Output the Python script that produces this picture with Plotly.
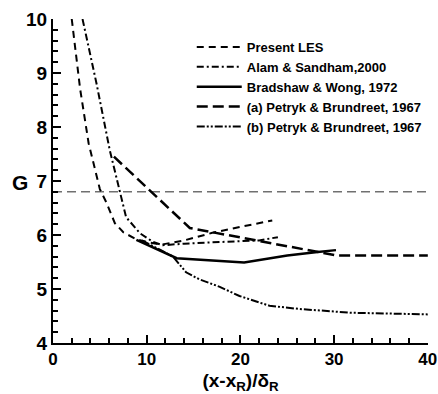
import plotly.graph_objects as go

# ---- data ----
les_x = [2.0, 2.9, 3.8, 5.0, 5.7, 6.6, 7.5, 8.9, 10.0, 11.5, 14.0, 17.0, 20.0, 23.4]
les_g = [10.0, 8.7, 7.7, 6.85, 6.6, 6.22, 6.05, 5.92, 5.87, 5.82, 5.9, 6.04, 6.15, 6.27]

alam_x = [3.15, 4.65, 6.06, 7.3, 7.8, 9.3, 10.7, 11.7, 14.0, 17.8, 20.2, 22.0, 24.0]
alam_g = [10.0, 8.8, 7.57, 6.65, 6.33, 6.03, 5.87, 5.81, 5.84, 5.87, 5.89, 5.9, 5.96]

brad_x = [8.9, 12.8, 13.2, 20.4, 25.0, 28.0, 30.2]
brad_g = [5.91, 5.6, 5.57, 5.49, 5.62, 5.68, 5.72]

petA_x = [6.5, 14.6, 30.3, 40.0]
petA_g = [7.45, 6.13, 5.62, 5.62]

petB_x = [9.5, 12.8, 14.2, 15.6, 17.8, 19.9, 23.1, 26.3, 31.8, 40.0]
petB_g = [5.9, 5.6, 5.31, 5.18, 5.04, 4.87, 4.69, 4.63, 4.56, 4.53]

ref_line_g = 6.8
ref_line_x = [0, 40]

names = ["Present LES", "Alam & Sandham,2000", "Bradshaw & Wong, 1972",
         "(a) Petryk & Brundreet, 1967", "(b) Petryk & Brundreet, 1967"]

x_ticks = [0, 10, 20, 30, 40]
y_ticks = [4, 5, 6, 7, 8, 9, 10]

FONT = "Liberation Sans Narrow, Arial Narrow, Liberation Sans, Arial, sans-serif"

fig = go.Figure()

fig.add_trace(go.Scatter(x=ref_line_x, y=[ref_line_g, ref_line_g], mode="lines",
                         line=dict(color="#707070", width=1.5, dash="9px,5px"),
                         showlegend=False, hoverinfo="skip"))

styles = [
    dict(color="black", width=2, dash="7px,5px"),
    dict(color="black", width=2, dash="7px,3px,2px,3px"),
    dict(color="black", width=2.5, dash="solid"),
    dict(color="black", width=2.5, dash="11px,5px"),
    dict(color="black", width=2, dash="8px,2px,2px,2px,2px,2px"),
]
series = [(les_x, les_g), (alam_x, alam_g), (brad_x, brad_g), (petA_x, petA_g), (petB_x, petB_g)]
for (xs, ys), nm, st in zip(series, names, styles):
    fig.add_trace(go.Scatter(x=xs, y=ys, mode="lines", name=nm, line=st))

axis_common = dict(
    showline=True, linecolor="black", linewidth=2, mirror=False,
    showgrid=False, zeroline=False, automargin=False,
    ticks="inside", ticklen=8, tickwidth=2, tickcolor="black",
    ticklabeloverflow="allow",
)

fig.update_xaxes(range=[0, 40.02], tickvals=x_ticks,
                 ticktext=[f"<b>{v}</b>" for v in x_ticks],
                 tickfont=dict(family=FONT, size=17, color="black", weight="bold"),
                 minor=dict(ticks="inside", ticklen=5, tickwidth=1.5, tickcolor="black", dtick=2),
                 title=dict(text="(x-x<sub>R</sub>)/δ<sub>R</sub>",
                            font=dict(family=FONT, size=19, color="black", weight="bold"),
                            standoff=6),
                 **axis_common)
fig.update_yaxes(range=[4, 10], tickvals=y_ticks,
                 ticktext=[f"<b>{v}</b>" for v in y_ticks],
                 tickfont=dict(family=FONT, size=19, color="black", weight="bold"),
                 minor=dict(ticks="inside", ticklen=5, tickwidth=1.5, tickcolor="black", dtick=0.2),
                 **axis_common)

fig.add_annotation(text="G", xref="paper", yref="paper", x=-0.088, y=0.494,
                   showarrow=False, xanchor="center", yanchor="middle",
                   font=dict(family=FONT, size=21, color="black", weight="bold"))

fig.update_layout(
    width=438, height=394,
    margin=dict(l=53, r=10, t=19, b=51),
    paper_bgcolor="white", plot_bgcolor="white",
    legend=dict(x=0.37, y=0.96, xanchor="left", yanchor="top",
                bgcolor="rgba(0,0,0,0)", tracegroupgap=0,
                font=dict(family=FONT, size=13, color="black", weight="bold"),
                itemwidth=45),
)

fig.write_html("out.html")
